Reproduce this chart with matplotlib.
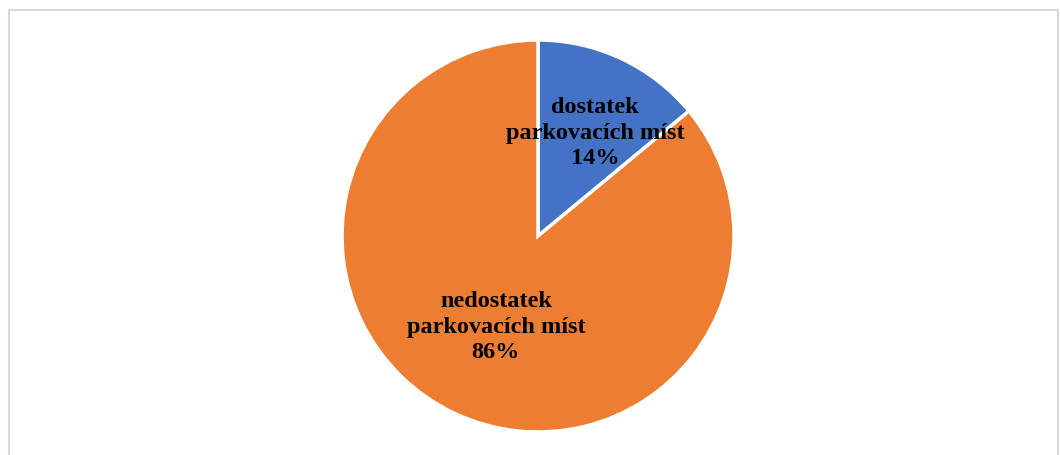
import matplotlib.pyplot as plt
from matplotlib.patches import Rectangle

labels = ['dostatek\nparkovacích míst', 'nedostatek\nparkovacích míst']
shares = [14, 86]
colors = ['#4472C4', '#ED7D31']
label_pos = [(0.29, 0.53), (-0.215, -0.46)]

plt.rcParams['font.family'] = ['Liberation Serif', 'DejaVu Serif']

fig = plt.figure(figsize=(10.6, 4.56), dpi=100)
fig.patches.append(Rectangle((9 / 1060, -0.05), 1049 / 1060, 1.05 - 10.5 / 456,
                             transform=fig.transFigure, fill=False,
                             edgecolor='#D9D9D9', linewidth=1.5))

# pie centre ~(538, 237), radius ~196 px
r = 196
ax = fig.add_axes([(538 - r) / 1060, (456 - 237 - r) / 456, 2 * r / 1060, 2 * r / 456])
ax.pie(shares, colors=colors, startangle=90, counterclock=False,
       wedgeprops=dict(edgecolor='white', linewidth=2.5))
ax.set_xlim(-1, 1)
ax.set_ylim(-1, 1)
ax.set_aspect('equal')

for lab, val, (x, y) in zip(labels, shares, label_pos):
    ax.text(x, y, f'{lab}\n{val}%', ha='center', va='center',
            fontsize=17.5, fontweight='bold', linespacing=1.28)

fig.savefig('out.png', dpi=100)
